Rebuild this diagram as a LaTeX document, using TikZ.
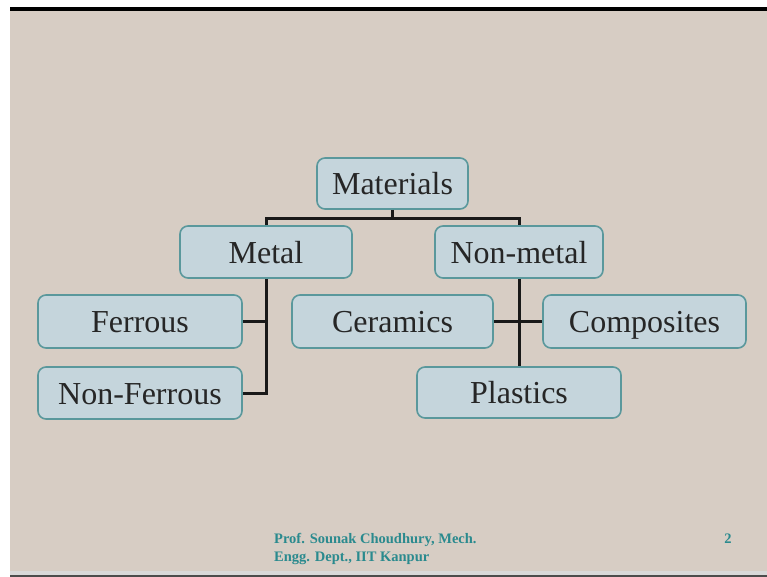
\documentclass[tikz,border=0pt]{standalone}
\usepackage{fontspec}
\setmainfont{Liberation Serif}
\definecolor{slidebg}{RGB}{215,205,196}
\definecolor{boxfill}{RGB}{197,213,220}
\definecolor{boxline}{RGB}{90,152,156}
\definecolor{foot}{RGB}{42,138,142}
\tikzset{
  catbox/.style={draw=boxline, line width=1.6pt, fill=boxfill, rounded corners=8pt,
    inner sep=0pt, text height=22pt, text depth=0pt,
    font=\fontsize{32}{36}\selectfont, text=black!85},
  link/.style={draw=black!90, line width=3pt},
  foottext/.style={font=\bfseries\fontsize{14.5}{16}\selectfont, text=foot, inner sep=0pt}
}
\begin{document}
\begin{tikzpicture}[x=1pt,y=-1pt]
\useasboundingbox (0,0) rectangle (767,577);
\fill[white] (0,0) rectangle (767,577);
\fill[slidebg] (10,11) rectangle (767,571);
\fill[black] (10,7) rectangle (767,11);
\fill[black!15] (10,571) rectangle (767,575);
\fill[black!70] (10,575) rectangle (767,577);

\node[catbox, minimum width=151pt, minimum height=51pt] (mat) at (392.5,183.5) {Materials};
\node[catbox, minimum width=172pt, minimum height=52pt] (metal) at (266,252) {Metal};
\node[catbox, minimum width=168pt, minimum height=52pt] (nonmetal) at (519,252) {Non-metal};
\node[catbox, minimum width=204pt, minimum height=53pt] (ferrous) at (140,321.5) {Ferrous};
\node[catbox, minimum width=204pt, minimum height=52pt] (nonferrous) at (140,393) {Non-Ferrous};
\node[catbox, minimum width=201pt, minimum height=53pt] (ceramics) at (392.5,321.5) {Ceramics};
\node[catbox, minimum width=203pt, minimum height=53pt] (composites) at (644.5,321.5) {Composites};
\node[catbox, minimum width=204pt, minimum height=51pt] (plastics) at (519,392.5) {Plastics};

\coordinate (j1) at (392.5,218);
\draw[link] (mat.south) -- (j1);
\draw[link] (metal.north) |- (j1) -| (nonmetal.north);
\draw[link] (metal.south) |- (nonferrous.east);
\draw[link] (ferrous.east) -- (ferrous.east -| metal.south);
\draw[link] (nonmetal.south) -- (plastics.north);
\draw[link] (ceramics.east) -- (composites.west);

\node[foottext, anchor=base west] (f1) at (274,543) {Prof. Sounak Choudhury, Mech.};
\node[foottext, anchor=base west] (f2) at (274,561) {Engg. Dept., IIT Kanpur};
\node[foottext, anchor=base] (pg) at (728,543) {2};
\end{tikzpicture}
\end{document}
